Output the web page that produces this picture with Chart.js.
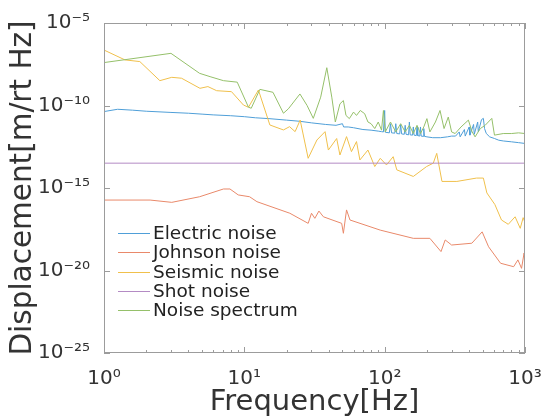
<!DOCTYPE html>
<html lang="en">
<head>
  <meta charset="UTF-8">
  <title>Displacement noise</title>
  <script src="https://cdn.jsdelivr.net/npm/chart.js"></script>
  <style>
    html, body {
      margin: 0;
      padding: 0;
      background: #fff;
    }
    #wrap {
      width: 550px;
      height: 417px;
    }
  </style>
</head>
<body>
  <div id="wrap"><canvas id="chart"></canvas></div>

  <script>
    // values (log-log)
    const electricFreq = [1, 1.25, 1.6, 2, 3, 4, 5, 6, 8, 10, 12, 15, 20, 25, 30, 38, 45, 50, 51, 55, 60, 70, 80, 90, 95, 98, 100, 101, 108, 110, 112, 118, 120, 122, 128, 130, 132, 138, 140, 142, 148, 150, 152, 158, 160, 162, 168, 170, 172, 178, 180, 182, 188, 190, 192, 200, 220, 250, 280, 300, 320, 340, 345, 370, 375, 400, 405, 430, 435, 460, 465, 490, 505, 515, 530, 560, 606, 650, 700, 800, 900, 1000];
    const electricNoise = [4.3e-11, 5.9e-11, 5.2e-11, 4.5e-11, 3.8e-11, 3.4e-11, 3e-11, 2.7e-11, 2.4e-11, 2.1e-11, 1.8e-11, 1.6e-11, 1.3e-11, 1.1e-11, 8.9e-12, 7.1e-12, 6.3e-12, 7.9e-12, 5e-12, 5e-12, 4.5e-12, 3.5e-12, 3.2e-12, 2.8e-12, 2.6e-12, 2.5e-12, 5e-11, 2.4e-12, 2.2e-12, 7.9e-12, 2.2e-12, 2.1e-12, 7.9e-12, 2e-12, 1.9e-12, 7.1e-12, 1.9e-12, 1.8e-12, 6.3e-12, 1.8e-12, 1.66e-12, 1e-11, 1.66e-12, 1.6e-12, 5e-12, 1.6e-12, 1.5e-12, 5e-12, 1.5e-12, 1.4e-12, 5e-12, 1.4e-12, 1.35e-12, 4e-12, 1.35e-12, 1.26e-12, 1.12e-12, 1.12e-12, 1.26e-12, 1.4e-12, 1.4e-12, 2.5e-12, 1.26e-12, 3.5e-12, 1.4e-12, 5e-12, 1.6e-12, 7.1e-12, 1.8e-12, 1e-11, 2.5e-12, 1.4e-11, 1.66e-11, 4e-12, 2e-12, 1.26e-12, 1e-12, 7.9e-13, 7.1e-13, 6.3e-13, 5.6e-13, 5e-13];

    const johnsonFreq = [1, 2.13, 3.04, 4.8, 7.1, 7.9, 9.05, 10.9, 12.3, 21.1, 28.5, 30.1, 31.8, 34, 36.6, 49.4, 50.8, 53.5, 56.6, 93, 160, 210, 252, 270, 300, 418, 495, 550, 670, 830, 890, 945, 985, 1000];
    const johnsonNoise = [1.86e-16, 1.86e-16, 1.35e-16, 2.95e-16, 8.7e-16, 8.7e-16, 3.8e-16, 2.95e-16, 1.48e-16, 2.95e-17, 7.2e-18, 2.95e-17, 1.45e-17, 4e-17, 1.8e-17, 7.2e-18, 1.8e-18, 4.7e-17, 1.15e-17, 2.8e-18, 8.9e-19, 8.9e-19, 1.4e-19, 7.1e-19, 3.5e-19, 4.5e-19, 2.2e-18, 2.75e-19, 2.75e-20, 1.7e-20, 4.4e-20, 1.35e-20, 1.15e-19, 1.6e-20];

    const seismicFreq = [1, 1.41, 1.8, 2.5, 3.04, 3.57, 4.83, 5.5, 6.35, 8.1, 9.85, 10.7, 12.6, 15.2, 19, 21, 23, 25, 28.5, 32.9, 37.6, 39.7, 45.5, 48, 53.5, 58, 63, 66.6, 76, 85, 93, 103, 115, 122, 160, 199, 222, 235, 256, 327, 451, 505, 535, 610, 680, 760, 850, 925, 970, 1000];
    const seismicNoise = [2.3e-7, 5.8e-8, 4.6e-8, 3.2e-9, 5.1e-9, 4.5e-9, 1.1e-9, 1.4e-9, 7.9e-10, 6.9e-10, 1.07e-10, 7.8e-11, 8.7e-10, 6.6e-12, 3.3e-12, 5.2e-12, 2.6e-12, 1.3e-11, 6.3e-14, 8.1e-13, 2.6e-12, 2e-13, 1e-12, 1e-13, 1.3e-12, 1.6e-13, 6.5e-13, 5e-14, 2e-13, 2e-14, 6.3e-14, 2.5e-14, 7.9e-14, 1.26e-14, 5e-15, 2e-14, 3.2e-14, 1.26e-13, 2.5e-15, 2.5e-15, 4e-15, 4e-15, 5e-16, 1e-16, 1.15e-17, 6.3e-18, 1.8e-17, 3.6e-18, 1.6e-17, 7.9e-18];

    const shotFreq = [1, 1000];
    const shotNoise = [3.2e-14, 3.2e-14];

    const spectrumFreq = [1, 3, 4.8, 5.7, 7.1, 8.9, 10.7, 11.2, 12.9, 16, 19, 20.6, 24.9, 28, 31, 35, 38.7, 42, 44.5, 48, 50.8, 53, 56, 60, 63, 67, 72, 76, 80, 85, 90, 95, 98, 101, 110, 120, 130, 140, 150, 160, 170, 180, 190, 200, 210, 230, 248, 265, 284, 300, 318, 350, 395, 420, 441, 480, 520, 580, 606, 700, 800, 900, 1000];
    const noiseSpectrum = [4e-8, 1.45e-7, 8.9e-9, 5.6e-9, 3.2e-9, 2.6e-9, 7.9e-11, 6.8e-11, 9.5e-10, 6.3e-10, 3.4e-11, 6.3e-11, 5e-10, 1e-10, 1.66e-11, 3.2e-10, 1.95e-8, 3.2e-10, 1e-11, 1.26e-10, 2e-10, 2.5e-11, 1.6e-11, 4e-11, 2.5e-11, 5e-11, 3.2e-11, 1e-11, 7.9e-12, 4e-12, 1e-11, 3.2e-12, 5e-11, 2.5e-12, 1e-11, 2.5e-12, 7.9e-12, 2.5e-12, 6.3e-12, 2e-12, 6.3e-12, 2e-12, 5e-12, 1.6e-11, 2.5e-12, 1e-11, 5e-11, 4e-12, 2e-11, 2.5e-12, 2e-12, 5e-12, 1.3e-11, 2.5e-12, 1.26e-12, 4e-12, 6.3e-12, 1.66e-11, 1.6e-12, 2e-12, 2e-12, 2.2e-12, 2e-12];

    const xTicks = [1, 10, 100, 1000];
    const yTicks = [1e-25, 1e-20, 1e-15, 1e-10, 1e-5];

    const FONT = '"DejaVu Sans", sans-serif';
    const SUP = { '0': '⁰', '1': '¹', '2': '²', '3': '³', '4': '⁴', '5': '⁵', '6': '⁶', '7': '⁷', '8': '⁸', '9': '⁹', '-': '⁻' };

    function powLabel(v) {
      const e = String(Math.round(Math.log10(v)));
      return '10' + e.split('').map(c => SUP[c]).join('');
    }

    function pts(xs, ys) {
      return xs.map((x, i) => ({ x: x, y: ys[i] }));
    }

    // box, inward ticks and the legend inside the plot
    const framePlugin = {
      id: 'frame',
      afterDatasetsDraw(chart) {
        const { ctx, chartArea: a } = chart;
        const x = chart.scales.x, y = chart.scales.y;
        ctx.save();
        ctx.strokeStyle = '#9c9c9c';
        ctx.lineWidth = 1;
        ctx.strokeRect(a.left + 0.5, a.top + 0.5, a.right - a.left - 1, a.bottom - a.top - 1);
        ctx.beginPath();
        for (let d = 1; d < 1000; d *= 10) {
          for (let m = 1; m <= 10; m++) {
            const px = Math.round(x.getPixelForValue(d * m)) + 0.5;
            const len = (m === 1 || m === 10) ? 6 : 3;
            ctx.moveTo(px, a.bottom); ctx.lineTo(px, a.bottom - len);
            ctx.moveTo(px, a.top); ctx.lineTo(px, a.top + len);
          }
        }
        yTicks.forEach(v => {
          const py = Math.round(y.getPixelForValue(v)) + 0.5;
          ctx.moveTo(a.left, py); ctx.lineTo(a.left + 6, py);
          ctx.moveTo(a.right, py); ctx.lineTo(a.right - 6, py);
        });
        ctx.stroke();

        // legend
        const lx = 118, ly = 233, step = 19.3;
        ctx.font = '18.5px ' + FONT;
        ctx.textBaseline = 'middle';
        ctx.textAlign = 'left';
        chart.data.datasets.forEach((ds, i) => {
          const yy = Math.round(ly + i * step) + 0.5;
          ctx.strokeStyle = ds.borderColor;
          ctx.beginPath();
          ctx.moveTo(lx, yy);
          ctx.lineTo(lx + 32, yy);
          ctx.stroke();
          ctx.fillStyle = '#222';
          ctx.fillText(ds.label, lx + 35, yy + 1);
        });
        ctx.restore();
      }
    };

    const ctx = document.getElementById('chart').getContext('2d');
    new Chart(ctx, {
      type: 'line',
      data: {
        datasets: [
          { label: 'Electric noise', data: pts(electricFreq, electricNoise), borderColor: '#4f9fd8', order: 4 },
          { label: 'Johnson noise', data: pts(johnsonFreq, johnsonNoise), borderColor: '#e9896a', order: 3 },
          { label: 'Seismic noise', data: pts(seismicFreq, seismicNoise), borderColor: '#f0c04c', order: 2 },
          { label: 'Shot noise', data: pts(shotFreq, shotNoise), borderColor: '#b48bc4', order: 1 },
          { label: 'Noise spectrum', data: pts(spectrumFreq, noiseSpectrum), borderColor: '#95c06a', order: 0 }
        ]
      },
      options: {
        responsive: true,
        maintainAspectRatio: false,
        animation: false,
        layout: { padding: { top: 23, right: 25, left: 0, bottom: 0 } },
        elements: {
          point: { radius: 0 },
          line: { borderWidth: 1, tension: 0 }
        },
        plugins: {
          legend: { display: false },
          tooltip: { enabled: false }
        },
        scales: {
          x: {
            type: 'logarithmic',
            min: 1,
            max: 1000,
            afterBuildTicks: s => { s.ticks = xTicks.map(v => ({ value: v })); },
            afterFit: s => { s.height = 64; },
            grid: { display: false },
            border: { display: false },
            ticks: {
              padding: 6,
              maxRotation: 0,
              color: '#333',
              font: { family: FONT, size: 20 },
              callback: v => powLabel(v)
            },
            title: {
              display: true,
              text: 'Frequency[Hz]',
              color: '#333',
              font: { family: FONT, size: 29, lineHeight: 1 },
              padding: { top: 0, bottom: 0 }
            }
          },
          y: {
            type: 'logarithmic',
            min: 1e-25,
            max: 1e-5,
            afterBuildTicks: s => { s.ticks = yTicks.map(v => ({ value: v })); },
            afterFit: s => { s.width = 104; },
            grid: { display: false },
            border: { display: false },
            ticks: {
              padding: 6,
              color: '#333',
              font: { family: FONT, size: 20 },
              callback: v => powLabel(v)
            },
            title: {
              display: true,
              text: 'Displacement[m/rt Hz]',
              color: '#333',
              font: { family: FONT, size: 29.5, lineHeight: 1 },
              padding: { top: 9, bottom: 0 }
            }
          }
        }
      },
      plugins: [framePlugin]
    });
  </script>
</body>
</html>
